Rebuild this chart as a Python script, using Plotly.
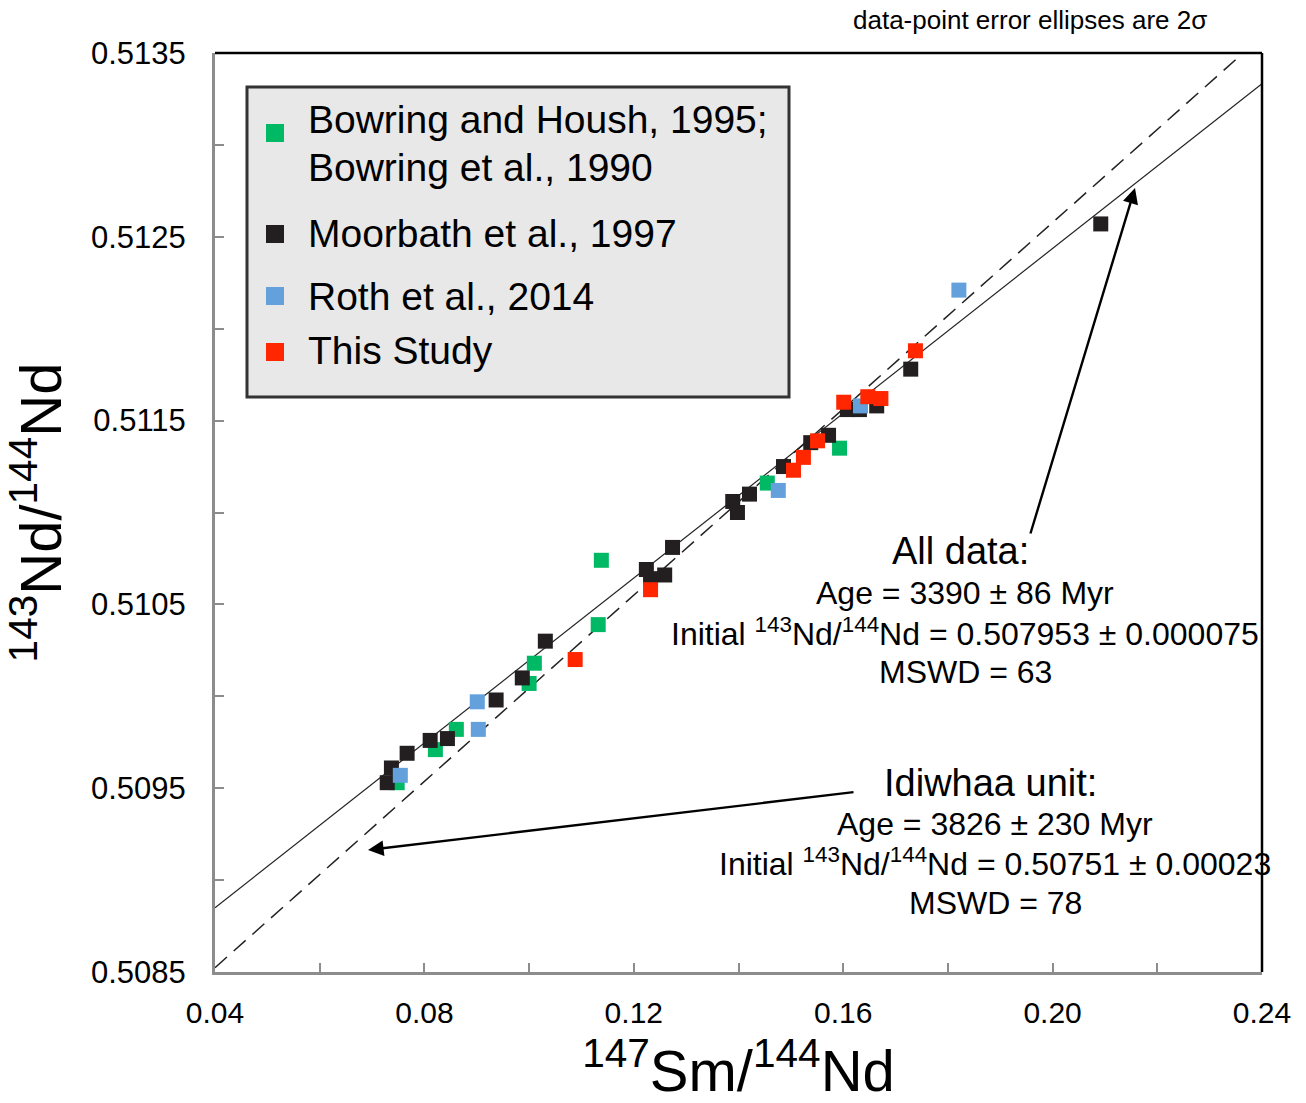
import numpy as np
import plotly.graph_objects as go

# ---- data ----
bowring_x = [0.0748, 0.0821, 0.0861, 0.1000, 0.1010, 0.1132, 0.1138, 0.1455, 0.1593]
bowring_y = [0.50953, 0.50971, 0.50982, 0.51007, 0.51018, 0.51039, 0.51074, 0.51116, 0.51135]

moorbath_x = [0.0729, 0.0737, 0.0767, 0.0811, 0.0844, 0.0937, 0.0987, 0.1031, 0.1224, 0.1232,
              0.1259, 0.1274, 0.1389, 0.1398, 0.1421, 0.1486, 0.1538, 0.1572, 0.1608, 0.1631,
              0.1664, 0.1729, 0.2092]
moorbath_y = [0.50953, 0.50961, 0.50969, 0.50976, 0.50977, 0.50998, 0.51010, 0.51030, 0.51069, 0.51064,
              0.51066, 0.51081, 0.51106, 0.51100, 0.51110, 0.51125, 0.51138, 0.51142, 0.51156, 0.51156,
              0.51158, 0.51178, 0.51257]

roth_x = [0.0754, 0.0901, 0.0903, 0.1476, 0.1633, 0.1821]
roth_y = [0.50957, 0.50997, 0.50982, 0.51112, 0.51158, 0.51221]

study_x = [0.1088, 0.1232, 0.1505, 0.1524, 0.1551, 0.1601, 0.1647, 0.1672, 0.1738]
study_y = [0.51020, 0.51058, 0.51123, 0.51130, 0.51139, 0.51160, 0.51163, 0.51162, 0.51188]

series_names = ["Bowring and Housh, 1995;<br>Bowring et al., 1990", "Moorbath et al., 1997",
                "Roth et al., 2014", "This Study"]

# isochron parameters (from annotations)
LAMBDA = 6.54e-12
all_age_myr, all_initial = 3390, 0.507953
idi_age_myr, idi_initial = 3826, 0.50751
line_x = [0.04, 0.24]

x_ticks = [0.04, 0.08, 0.12, 0.16, 0.20, 0.24]
y_ticks = [0.5085, 0.5095, 0.5105, 0.5115, 0.5125, 0.5135]

def isochron(xs, age_myr, initial):
    slope = np.exp(LAMBDA * age_myr * 1e6) - 1
    return [initial + slope * x for x in xs]

GREEN, BLACK, BLUE, RED = "#00b964", "#231f20", "#64a0dc", "#ff2600"
FONT = "Liberation Sans, Arial, sans-serif"

fig = go.Figure()

fig.add_trace(go.Scatter(x=line_x, y=isochron(line_x, all_age_myr, all_initial), mode="lines",
                         line=dict(color="#222", width=1.2), showlegend=False, hoverinfo="skip"))
fig.add_trace(go.Scatter(x=line_x, y=isochron(line_x, idi_age_myr, idi_initial), mode="lines",
                         line=dict(color="#222", width=1.5, dash="16px,9px"), showlegend=False, hoverinfo="skip"))

ms = 15
cols = [GREEN, BLACK, BLUE, RED]
for name, xs, ys, col in zip(series_names, [bowring_x, moorbath_x, roth_x, study_x],
                             [bowring_y, moorbath_y, roth_y, study_y], cols):
    fig.add_trace(go.Scatter(x=xs, y=ys, mode="markers", name=name.replace("<br>", " "), showlegend=False,
                             marker=dict(symbol="square", size=ms, color=col, line=dict(width=0))))

X0, X1, Y0, Y1 = 215, 1262, 53, 972
def px(xp, yp):
    return (xp - X0) / (X1 - X0), (Y1 - yp) / (Y1 - Y0)

ann = []
shapes = []
def text_at(xp, yp, text, size, xanchor="center"):
    xx, yy = px(xp, yp)
    ann.append(dict(x=xx, y=yy, xref="x domain", yref="y domain", text=text, showarrow=False,
                    xanchor=xanchor, yanchor="middle", font=dict(size=size, color="black", family=FONT)))

text_at(1030, 20, "data-point error ellipses are 2σ", 26)
text_at(960, 551, "All data:", 38)
text_at(965, 593, "Age = 3390 ± 86 Myr", 32)
text_at(965, 632, "Initial <sup>143</sup>Nd/<sup>144</sup>Nd = 0.507953 ± 0.000075", 32)
text_at(965, 672, "MSWD = 63", 32)
text_at(990, 783, "Idiwhaa unit:", 38)
text_at(995, 824, "Age = 3826 ± 230 Myr", 32)
text_at(995, 862, "Initial <sup>143</sup>Nd/<sup>144</sup>Nd = 0.50751 ± 0.00023", 32)
text_at(995, 903, "MSWD = 78", 32)

def arrow(x0p, y0p, x1p, y1p):
    x0, y0 = px(x0p, y0p)
    x1, y1 = px(x1p, y1p)
    ann.append(dict(x=x1, y=y1, ax=x0, ay=y0, xref="x domain", yref="y domain",
                    axref="x domain", ayref="y domain",
                    text="", showarrow=True, arrowhead=2, arrowsize=1.3, arrowwidth=2.4, arrowcolor="black"))

arrow(1030, 535, 1135, 188)
arrow(855, 792, 368, 850)

# manual legend box
def rect(xa, ya, xb, yb, fill, line_col=None, lw=0):
    a = px(xa, ya); b = px(xb, yb)
    shapes.append(dict(type="rect", xref="x domain", yref="y domain", x0=a[0], y0=b[1], x1=b[0], y1=a[1],
                       fillcolor=fill, line=dict(color=line_col or fill, width=lw), layer="above"))

rect(247, 87, 789, 397, "#e8e8e8", "#333333", 3)
leg_marker_y = [133, 234, 296, 352]
leg_text_y = [[120, 167], [233], [296], [351]]
for name, col, my, tys in zip(series_names, cols, leg_marker_y, leg_text_y):
    rect(266, my - 9, 284, my + 9, col)
    for line, ty in zip(name.split("<br>"), tys):
        text_at(306, ty, line, 39, xanchor="left")

# frame top/right (black)
shapes.append(dict(type="line", xref="paper", yref="paper", x0=0, x1=1, y0=1, y1=1, line=dict(color="black", width=2.5)))
shapes.append(dict(type="line", xref="paper", yref="paper", x0=1, x1=1, y0=0, y1=1, line=dict(color="black", width=2.5)))

fig.update_layout(
    width=1306, height=1103,
    margin=dict(l=X0, r=1306 - X1, t=Y0, b=1103 - Y1),
    paper_bgcolor="white", plot_bgcolor="white",
    font=dict(family=FONT, color="black"),
    annotations=ann, shapes=shapes, showlegend=False,
    xaxis=dict(range=[0.04, 0.24], tickvals=x_ticks, ticktext=[f"{v:.2f}" for v in x_ticks],
               automargin=False,
               showgrid=False, zeroline=False, showline=True, linecolor="#8c8c8c", linewidth=3,
               ticks="inside", ticklen=9, tickwidth=1.5, tickcolor="#8c8c8c",
               minor=dict(dtick=0.02, ticks="inside", ticklen=9, tickwidth=1.5, tickcolor="#8c8c8c"),
               tickfont=dict(size=30, family=FONT), ticklabelstandoff=12,
               title=dict(text="<sup>147</sup>Sm/<sup>144</sup>Nd", font=dict(size=58, family=FONT), standoff=33)),
    yaxis=dict(range=[0.5085, 0.5135], tickvals=y_ticks, ticktext=[f"{v:.4f}" for v in y_ticks],
               automargin=False,
               showgrid=False, zeroline=False, showline=True, linecolor="#8c8c8c", linewidth=3,
               ticks="inside", ticklen=9, tickwidth=1.5, tickcolor="#8c8c8c",
               minor=dict(dtick=0.0005, ticks="inside", ticklen=9, tickwidth=1.5, tickcolor="#8c8c8c"),
               tickfont=dict(size=31, family=FONT), ticklabelstandoff=20,
               title=dict(text="<sup>143</sup>Nd/<sup>144</sup>Nd", font=dict(size=58, family=FONT), standoff=16)),
)

fig.write_html("out.html")
